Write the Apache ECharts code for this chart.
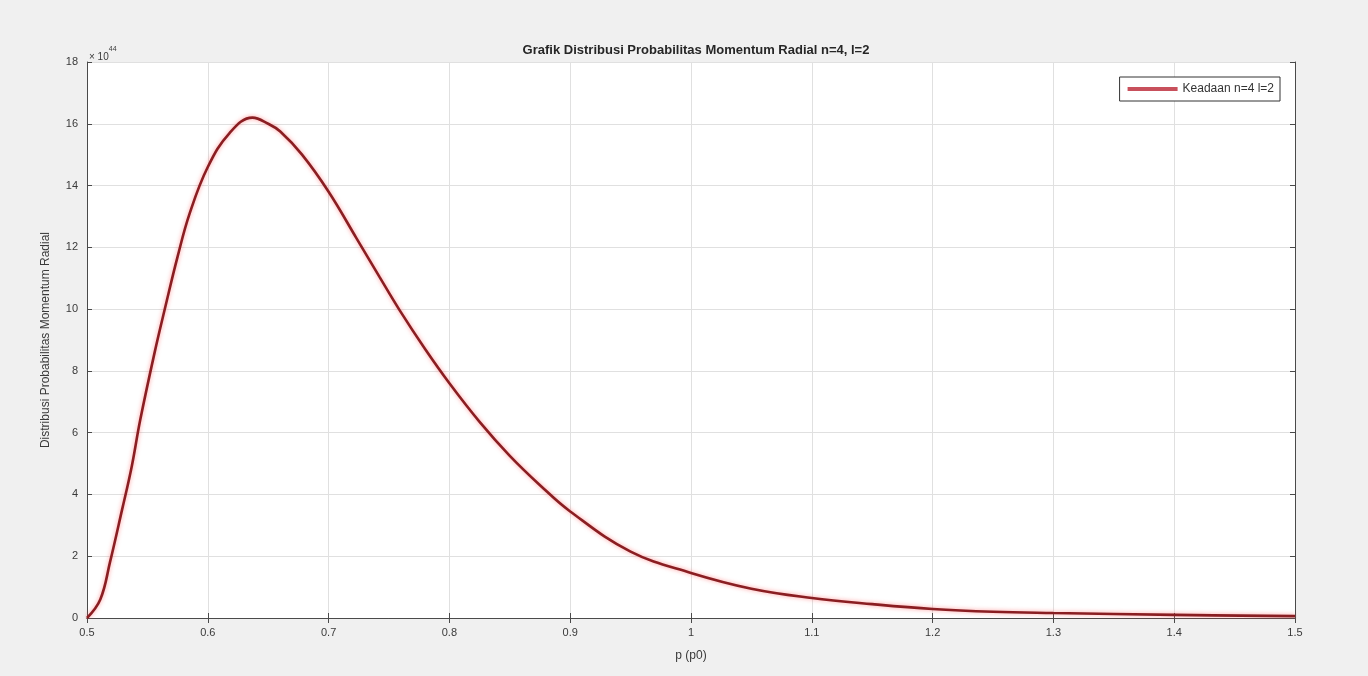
<!DOCTYPE html>
<html>
<head>
<meta charset="utf-8" />
<title>Grafik Distribusi Probabilitas Momentum Radial</title>
<style type="text/css">
body, html {
	margin: 0;
	padding: 0;
	height: 100%;
	background-color: #f0f0f0;
}
#chart {
	width: 1368px;
	height: 676px;
}
</style>
</head>
<body>
	<div id="chart"></div>
	<script type="text/javascript" src="https://cdn.jsdelivr.net/npm/echarts@6/dist/echarts.min.js"></script>
	<script>
		// p (p0) dan nilai distribusi (x 10^44)
		let pValues = [0.500, 0.511, 0.519, 0.529, 0.537, 0.544, 0.556, 0.565, 0.575, 0.585,
			0.600, 0.618, 0.637, 0.650, 0.660, 0.678, 0.700, 0.723, 0.742, 0.759,
			0.780, 0.800, 0.825, 0.850, 0.875, 0.900, 0.950, 1.000, 1.050, 1.100,
			1.150, 1.200, 1.250, 1.300, 1.400, 1.500];
		let distValues = [0, 0.6, 1.8, 3.5, 4.9, 6.4, 8.6, 10.1, 11.7, 13.1,
			14.6, 15.7, 16.2, 16.0, 15.75, 15.0, 13.8, 12.3, 11.05, 9.95,
			8.7, 7.6, 6.35, 5.25, 4.3, 3.45, 2.15, 1.46, 0.95, 0.65,
			0.45, 0.29, 0.2, 0.16, 0.10, 0.06];
		let seriesName = 'Keadaan n=4 l=2';

		let lineData = [];
		for (let i = 0; i < pValues.length; i++) {
			lineData.push([pValues[i], distValues[i]]);
		}

		let axisColor = '#4a4a4a';
		let labelColor = '#3a3a3a';
		let fontName = 'Liberation Sans, Arial, sans-serif';

		let chart = echarts.init(document.getElementById('chart'));
		chart.setOption({
			backgroundColor: '#f0f0f0',
			animation: false,
			//judul
			title: {
				text: 'Grafik Distribusi Probabilitas Momentum Radial n=4, l=2',
				left: 691,
				top: 39,
				textAlign: 'center',
				textStyle: {
					fontSize: 13,
					fontWeight: 'bold',
					color: '#262626',
					fontFamily: fontName
				}
			},
			legend: {
				right: 88,
				top: 77,
				orient: 'vertical',
				backgroundColor: '#ffffff',
				borderColor: '#333333',
				borderWidth: 1,
				borderRadius: 0,
				padding: [6, 6, 6, 8],
				itemWidth: 50,
				itemHeight: 4,
				icon: 'rect',
				itemGap: 4,
				textStyle: {
					fontSize: 12,
					color: '#333333',
					fontFamily: fontName
				},
				data: [{ name: seriesName, itemStyle: { color: '#c8505c' } }]
			},
			grid: {
				left: 87,
				right: 73,
				top: 62,
				bottom: 58,
				show: true,
				backgroundColor: '#ffffff',
				borderWidth: 0
			},
			xAxis: [
				{
					type: 'value',
					min: 0.5,
					max: 1.5,
					interval: 0.1,
					name: 'p (p0)',
					nameLocation: 'middle',
					nameGap: 32,
					nameTextStyle: { fontSize: 12, color: labelColor, fontFamily: fontName },
					axisLine: { show: true, lineStyle: { color: axisColor, width: 1 } },
					axisTick: { show: true, inside: true, length: 5, lineStyle: { color: axisColor } },
					axisLabel: {
						fontSize: 11,
						color: labelColor,
						margin: 9,
						fontFamily: fontName,
						formatter: function (v) { return String(Math.round(v * 10) / 10); }
					},
					splitLine: { show: true, lineStyle: { color: '#e0e0e0', width: 1 } }
				},
				{
					type: 'value',
					position: 'top',
					min: 0.5,
					max: 1.5,
					interval: 0.1,
					axisLine: { show: true, lineStyle: { color: axisColor, width: 1 } },
					axisTick: { show: true, inside: true, length: 5, lineStyle: { color: axisColor } },
					axisLabel: { show: false },
					splitLine: { show: false }
				}
			],
			yAxis: [
				{
					type: 'value',
					min: 0,
					max: 18,
					interval: 2,
					name: 'Distribusi Probabilitas Momentum Radial',
					nameLocation: 'middle',
					nameGap: 35,
					nameTextStyle: { fontSize: 12, color: labelColor, fontFamily: fontName },
					axisLine: { show: true, lineStyle: { color: axisColor, width: 1 } },
					axisTick: { show: true, inside: true, length: 5, lineStyle: { color: axisColor } },
					axisLabel: { fontSize: 11, color: labelColor, margin: 9, fontFamily: fontName },
					splitLine: { show: true, lineStyle: { color: '#e0e0e0', width: 1 } }
				},
				{
					type: 'value',
					position: 'right',
					min: 0,
					max: 18,
					interval: 2,
					axisLine: { show: true, lineStyle: { color: axisColor, width: 1 } },
					axisTick: { show: true, inside: true, length: 5, lineStyle: { color: axisColor } },
					axisLabel: { show: false },
					splitLine: { show: false }
				}
			],
			// faktor skala sumbu y
			graphic: [
				{
					type: 'text',
					left: 89,
					top: 46,
					style: {
						text: '{b|× 10}{s|44}',
						rich: {
							b: { fontSize: 10, fill: labelColor, fontFamily: fontName, padding: [6, 0, 0, 0] },
							s: { fontSize: 7, fill: labelColor, fontFamily: fontName, verticalAlign: 'top' }
						}
					}
				}
			],
			series: [
				{
					name: seriesName,
					type: 'line',
					smooth: 0.4,
					showSymbol: false,
					data: lineData,
					itemStyle: { color: '#c8505c' },
					lineStyle: {
						color: '#8a1e22',
						width: 2.6,
						shadowColor: 'rgba(255, 70, 70, 0.55)',
						shadowBlur: 4
					}
				}
			]
		});
	</script>
</body>
</html>
